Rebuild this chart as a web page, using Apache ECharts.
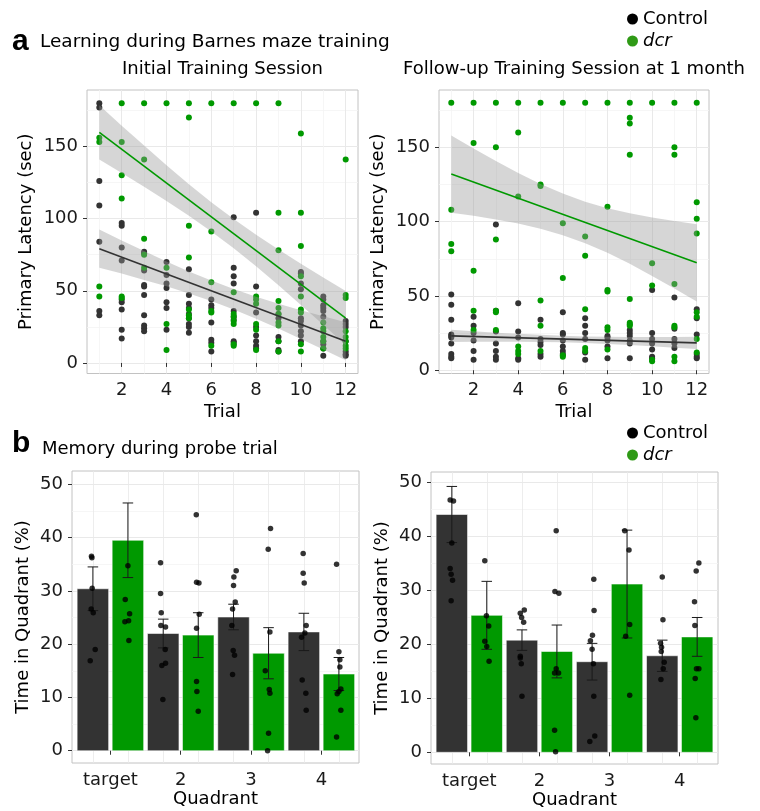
<!DOCTYPE html>
<html><head><meta charset="utf-8">
<script src="https://cdn.jsdelivr.net/npm/echarts@6/dist/echarts.min.js"></script>
<style>html,body{margin:0;padding:0;background:#fff}#c{width:760px;height:811px}</style>
</head><body><div id="c"></div>
<script>
// ---------------- DATA ----------------
const trials = [1,2,3,4,5,6,7,8,9,10,11,12];
const trialTicks = [2,4,6,8,10,12];
const trialMinor = [1,3,5,7,9,11];
const latencyTicks = [0,50,100,150];
const latencyMinor = [25,75,125,175];

// Initial training session: primary latency (sec) per trial
const initialControl = [
  [180,177,126,109,84,36,33],
  [97,95,80,71,44,42,37,23,17],
  [77,76,64,54,53,47,33,26,24,22],
  [70,61,55,52,42,38,23],
  [65,47,41,38,34,31,27,25,21],
  [44,40,38,28,16,14,8],
  [101,66,60,55,36,32,30,15,14],
  [104,53,35,25,19,15,12,10],
  [34,31,18,15,9,8],
  [63,62,55,51,31,29,26,22,19,15],
  [46,44,40,38,36,32,15,13,10,5],
  [29,27,25,15,8,6,5]
];
const initialDcr = [
  [156,153,53,46],
  [180,153,130,114,46,45],
  [180,141,86,75,66],
  [180,66,27,9],
  [180,170,95,73,37,33,31],
  [180,91,56,36,35,12],
  [180,49,34,32,29,27,13,12],
  [180,46,44,41,27,23,9],
  [180,104,78,43,38,34,28,26,15,8],
  [159,104,81,60,46,37,35,13,8],
  [28,24,22,18,15,10],
  [141,47,45,22,18,15,12,10]
];
// fitted lines (value at trial 1 and trial 12) and confidence bands per trial
const initialControlFit = [79.2, 15.0];
const initialDcrFit = [159.7, 31.1];
const initialControlUpper = [92.4,84.9,77.5,70.3,63.4,57.1,51.3,45.9,41.1,36.6,32.3,28.2];
const initialControlLower = [66.0,61.9,57.5,53.1,48.2,42.9,37.1,30.7,23.9,16.6,9.3,1.8];
const initialDcrUpper = [178.5,164.4,150.6,137.0,123.8,111.3,99.7,88.8,78.6,68.8,59.2,49.9];
const initialDcrLower = [140.9,131.6,122.0,112.2,102.0,91.1,79.5,67.0,53.8,40.2,26.4,12.3];

// Follow-up training session at 1 month
const followControl = [
  [51,44,34,24,23,22,18,11,9,8],
  [36,30,25,20,13,7],
  [98,40,26,18,13,9,7],
  [45,26,22,8,7],
  [34,21,19,17,11,9],
  [39,25,24,20,16,13,11],
  [35,30,25,21,12,7],
  [23,22,20,16,8],
  [27,25,23,20,18,8],
  [54,25,21,18,14,9,8],
  [49,28,21,18,15],
  [41,35,24,11,9,8]
];
const followDcr = [
  [180,108,85,80],
  [180,153,67,40,27],
  [180,150,88,40,39,27],
  [180,160,117,16,13,11],
  [180,125,124,47,30,13],
  [180,99,62,10,9],
  [180,90,77,41,15,13],
  [180,110,54,53,29,27,14],
  [180,170,166,145,48,32,31,30],
  [180,72,57,7,6],
  [180,150,145,58,30,29,9,6],
  [180,113,102,92,39,36,21,12]
];
const followControlFit = [23.1, 18.4];
const followDcrFit = [132.0, 72.3];
const followControlUpper = [27.2,26.3,25.3,24.5,23.8,23.2,22.7,22.5,22.4,22.4,22.4,22.5];
const followControlLower = [19.0,19.1,19.1,19.1,19.0,18.8,18.3,17.7,17.0,16.2,15.2,14.3];
const followDcrUpper = [158.0,149.3,140.8,132.7,125.3,118.9,113.4,109.0,105.6,102.8,100.4,98.3];
const followDcrLower = [106.0,103.9,101.4,98.7,95.3,90.9,85.4,79.0,71.6,63.4,55.0,46.3];

// Probe trials: time in quadrant (%)
const quadrants = ['target','2','3','4'];
const pctTicks = [0,10,20,30,40,50];
const pctMinor = [5,15,25,35,45];

const probe1ControlMean = [30.4,22.0,25.1,22.3];
const probe1ControlSE   = [4.1,2.7,2.4,3.5];
const probe1DcrMean     = [39.5,21.7,18.3,14.4];
const probe1DcrSE       = [7.0,4.2,4.8,3.1];
const probe1ControlPts = [
  [36.5,36.2,30.5,26.6,25.9,19.0,16.9],
  [35.3,29.5,25.9,23.5,23.2,19.0,16.4,16.0,9.6],
  [33.8,32.6,31.0,27.9,26.6,23.5,18.8,17.9,14.3],
  [37.0,33.3,31.5,23.5,22.1,21.3,13.3,10.8,7.6]
];
const probe1ControlJitter = [
  [-0.02,-0.014,-0.01,-0.024,0.005,0.033,-0.038],
  [-0.038,-0.038,-0.028,-0.033,0.033,0.028,0.033,-0.019,-0.005],
  [0.038,0.005,0,0.024,-0.014,-0.024,-0.005,0.014,-0.014],
  [-0.01,-0.01,0.005,0.033,0.014,-0.033,-0.024,0.028,0.033]
];
const probe1DcrPts = [
  [34.7,28.4,25.7,24.4,24.2,20.7],
  [44.3,31.6,31.5,25.6,23.0,13.0,11.1,7.4],
  [41.7,37.8,22.3,15.0,11.5,10.8,3.3,0],
  [35.0,18.6,17.1,15.7,11.6,11.1,10.7,7.6,2.6]
];
const probe1DcrJitter = [
  [0,-0.038,0.024,0.01,-0.043,0.014],
  [-0.028,-0.024,0.01,0.014,-0.024,-0.024,-0.019,0],
  [0.028,-0.005,0.019,-0.047,0.01,0.019,0,-0.014],
  [-0.033,0,0.014,0.014,0.028,0,-0.024,0.028,-0.033]
];

const probe2ControlMean = [44.1,20.8,16.8,17.9];
const probe2ControlSE   = [5.2,1.9,3.4,2.9];
const probe2DcrMean     = [25.4,18.7,31.2,21.4];
const probe2DcrSE       = [6.3,4.9,10.0,3.6];
const probe2ControlPts = [
  [46.8,46.6,38.8,34.1,33.0,31.9,28.1],
  [26.4,25.8,25.0,24.1,17.8,17.5,16.4,10.4],
  [32.1,26.3,21.7,20.7,19.1,16.4,10.4,3.0,2.0],
  [32.5,24.6,20.2,19.5,18.7,16.7,15.5,13.5]
];
const probe2ControlJitter = [
  [-0.024,0.024,0,-0.024,-0.01,0.01,-0.01],
  [0.033,-0.024,-0.005,0.024,-0.024,-0.024,-0.01,0],
  [0.024,0.028,0.005,-0.024,0,0.019,0.024,0.038,-0.033],
  [0,0.01,-0.024,-0.01,-0.014,0.028,0.014,-0.019]
];
const probe2DcrPts = [
  [35.5,25.3,23.4,20.6,19.6,16.9],
  [41.1,29.8,29.5,15.5,14.7,14.7,4.1,0.1],
  [41.1,37.5,23.7,21.5,10.6],
  [35.1,33.6,27.9,23.5,15.5,15.5,13.7,6.4]
];
const probe2DcrJitter = [
  [-0.028,-0.005,0.028,-0.028,0,0.033],
  [-0.01,-0.028,0.028,-0.01,-0.033,0.024,-0.033,-0.019],
  [-0.033,0.028,0.038,-0.019,0.038],
  [0.024,-0.014,-0.038,-0.033,-0.01,0.024,-0.028,-0.019]
];

// ---------------- STYLE ----------------
const FONT = '"DejaVu Sans", sans-serif';
const C_CTRL = '#333333';
const C_DCR = '#009900';
const GRID_MAJOR = '#e9e9e9';
const GRID_MINOR = '#f4f4f4';
const BAR_OFF = 0.249, BAR_HALF = 0.224, CAP_HALF = 0.075;
const qPos = quadrants.map((q,i)=>i+1);
const barCenters = [];
qPos.forEach(p=>{barCenters.push(p-BAR_OFF); barCenters.push(p+BAR_OFF);});

const labelStyle = {fontSize:18, fontFamily:FONT, color:'#1a1a1a'};
const nameStyle = {fontSize:18, fontFamily:FONT, color:'#000'};

function majorAxis(dim, g, min, max, ticks, minor, opts){
  const a = {
    type:'value', gridIndex:g, min:min, max:max,
    axisLine:{show:false},
    axisTick:{show:true, inside:false, length:4, lineStyle:{color:'#333', width:1}, customValues:ticks},
    axisLabel:Object.assign({customValues:ticks, margin:dim==='x'?8:9}, labelStyle),
    splitLine:{show:true, lineStyle:{color:GRID_MAJOR, width:1}},
    nameLocation:'middle', nameTextStyle:nameStyle
  };
  return Object.assign(a, opts||{});
}
function minorAxis(g, min, max, vals){
  return {
    type:'value', gridIndex:g, min:min, max:max,
    axisLine:{show:false}, axisLabel:{show:false},
    axisTick:{show:false, customValues:vals},
    splitLine:{show:true, lineStyle:{color:GRID_MINOR, width:0.8}}
  };
}

function scatterFrom(arr){
  const out=[]; arr.forEach((vals,i)=>vals.forEach(v=>out.push([trials[i], v]))); return out;
}
function jitterFrom(pts, jit, offset){
  const out=[]; pts.forEach((vals,i)=>vals.forEach((v,j)=>out.push([qPos[i]+offset+jit[i][j], v]))); return out;
}
function bandSeries(g, upper, lower){
  return {
    type:'custom', xAxisIndex:2*g, yAxisIndex:2*g, z:3, silent:true,
    data:[[trials[0], lower[0]]],
    renderItem:function(params, api){
      const pts=[];
      for(let i=0;i<trials.length;i++) pts.push(api.coord([trials[i], upper[i]]));
      for(let i=trials.length-1;i>=0;i--) pts.push(api.coord([trials[i], lower[i]]));
      return {type:'polygon', shape:{points:pts}, style:{fill:'rgba(153,153,153,0.4)'}};
    }
  };
}
function fitSeries(g, fit, color){
  return {type:'line', xAxisIndex:2*g, yAxisIndex:2*g, z:4, silent:true, symbol:'none',
    data:[[trials[0], fit[0]],[trials[trials.length-1], fit[1]]],
    lineStyle:{color:color, width:1.6}};
}
function scatterSeries(g, name, data, color){
  return {type:'scatter', name:name, xAxisIndex:2*g, yAxisIndex:2*g, z:2, symbolSize:6,
    data:data, itemStyle:{color:color, opacity:1}};
}
function barSeries(g, name, means, offset, color){
  return {type:'custom', name:name, xAxisIndex:2*g, yAxisIndex:2*g, z:2,
    itemStyle:{color:color},
    encode:{x:0, y:1},
    data:means.map((m,i)=>[qPos[i]+offset, m]),
    renderItem:function(params, api){
      const x=api.value(0), y=api.value(1);
      const p0=api.coord([x-BAR_HALF, y]), p1=api.coord([x+BAR_HALF, 0]);
      return {type:'rect', shape:{x:p0[0], y:p0[1], width:p1[0]-p0[0], height:p1[1]-p0[1]},
        style:{fill:color, stroke:'rgba(255,255,255,0.55)', lineWidth:1}};
    }};
}
function errSeries(g, means, se, offset){
  return {type:'custom', xAxisIndex:2*g, yAxisIndex:2*g, z:3, silent:true,
    encode:{x:0, y:[1,2]},
    data:means.map((m,i)=>[qPos[i]+offset, m-se[i], m+se[i]]),
    renderItem:function(params, api){
      const x=api.value(0), lo=api.value(1), hi=api.value(2);
      const a=api.coord([x, hi]), b=api.coord([x, lo]);
      const l=api.coord([x-CAP_HALF, hi]), r=api.coord([x+CAP_HALF, hi]);
      const l2=api.coord([x-CAP_HALF, lo]), r2=api.coord([x+CAP_HALF, lo]);
      const st={stroke:'#1a1a1a', lineWidth:1};
      return {type:'group', children:[
        {type:'line', shape:{x1:a[0],y1:a[1],x2:b[0],y2:b[1]}, style:st},
        {type:'line', shape:{x1:l[0],y1:l[1],x2:r[0],y2:r[1]}, style:st},
        {type:'line', shape:{x1:l2[0],y1:l2[1],x2:r2[0],y2:r2[1]}, style:st}
      ]};
    }};
}
function ptSeries(g, name, data){
  return {type:'scatter', name:name, xAxisIndex:2*g, yAxisIndex:2*g, z:4, symbolSize:5.5,
    data:data, itemStyle:{color:'#000'}, silent:true};
}

// ---------------- AXES ----------------
const TX = [0.45, 12.55];
const TL_Y = [-7.3, 189.1];
const TR_Y = [-2.2, 188.6];
const BX_L = [0.454, 4.535];
const BX_R = [0.454, 4.546];
const BL_Y = [-2.3, 52.5];
const BR_Y = [-2.17, 51.98];
const qFmt = v => quadrants[Math.round(v)-1];

const xAxis = [
  majorAxis('x',0,TX[0],TX[1],trialTicks,null,{name:'Trial', nameGap:30}),
  minorAxis(0,TX[0],TX[1],trialMinor),
  majorAxis('x',1,TX[0],TX[1],trialTicks,null,{name:'Trial', nameGap:30}),
  minorAxis(1,TX[0],TX[1],trialMinor),
  (function(){const a=majorAxis('x',2,BX_L[0],BX_L[1],qPos,null,{name:'Quadrant', nameGap:27});
    a.axisLabel.formatter=qFmt; a.splitLine={show:false}; return a;})(),
  (function(){const a=minorAxis(2,BX_L[0],BX_L[1],barCenters); a.splitLine.lineStyle.color=GRID_MAJOR; return a;})(),
  (function(){const a=majorAxis('x',3,BX_R[0],BX_R[1],qPos,null,{name:'Quadrant', nameGap:27});
    a.axisLabel.formatter=qFmt; a.splitLine={show:false}; return a;})(),
  (function(){const a=minorAxis(3,BX_R[0],BX_R[1],barCenters); a.splitLine.lineStyle.color=GRID_MAJOR; return a;})()
];
const yAxis = [
  majorAxis('y',0,TL_Y[0],TL_Y[1],latencyTicks,null,{name:'Primary Latency (sec)', nameGap:52}),
  minorAxis(0,TL_Y[0],TL_Y[1],latencyMinor),
  majorAxis('y',1,TR_Y[0],TR_Y[1],latencyTicks,null,{name:'Primary Latency (sec)', nameGap:52}),
  minorAxis(1,TR_Y[0],TR_Y[1],latencyMinor),
  majorAxis('y',2,BL_Y[0],BL_Y[1],pctTicks,null,{name:'Time in Quadrant (%)', nameGap:40}),
  minorAxis(2,BL_Y[0],BL_Y[1],pctMinor),
  majorAxis('y',3,BR_Y[0],BR_Y[1],pctTicks,null,{name:'Time in Quadrant (%)', nameGap:40}),
  minorAxis(3,BR_Y[0],BR_Y[1],pctMinor)
];

const gridStyle = {show:true, borderColor:'#c2c2c2', borderWidth:1, backgroundColor:'#fff'};
const grid = [
  Object.assign({left:87, top:90, width:271, height:283.5}, gridStyle),
  Object.assign({left:439, top:90, width:270, height:283.5}, gridStyle),
  Object.assign({left:72, top:471, width:287, height:292}, gridStyle),
  Object.assign({left:431, top:472, width:287, height:292}, gridStyle)
];

const series = [
  scatterSeries(0,'Control',scatterFrom(initialControl),C_CTRL),
  scatterSeries(0,'dcr',scatterFrom(initialDcr),C_DCR),
  bandSeries(0,initialControlUpper,initialControlLower),
  fitSeries(0,initialControlFit,C_CTRL),
  bandSeries(0,initialDcrUpper,initialDcrLower),
  fitSeries(0,initialDcrFit,C_DCR),

  scatterSeries(1,'Control',scatterFrom(followControl),C_CTRL),
  scatterSeries(1,'dcr',scatterFrom(followDcr),C_DCR),
  bandSeries(1,followControlUpper,followControlLower),
  fitSeries(1,followControlFit,C_CTRL),
  bandSeries(1,followDcrUpper,followDcrLower),
  fitSeries(1,followDcrFit,C_DCR),

  barSeries(2,'Control',probe1ControlMean,-BAR_OFF,C_CTRL),
  barSeries(2,'dcr',probe1DcrMean,BAR_OFF,C_DCR),
  errSeries(2,probe1ControlMean,probe1ControlSE,-BAR_OFF),
  errSeries(2,probe1DcrMean,probe1DcrSE,BAR_OFF),
  ptSeries(2,'Control pts',jitterFrom(probe1ControlPts,probe1ControlJitter,-BAR_OFF)),
  ptSeries(2,'dcr pts',jitterFrom(probe1DcrPts,probe1DcrJitter,BAR_OFF)),

  barSeries(3,'Control',probe2ControlMean,-BAR_OFF,C_CTRL),
  barSeries(3,'dcr',probe2DcrMean,BAR_OFF,C_DCR),
  errSeries(3,probe2ControlMean,probe2ControlSE,-BAR_OFF),
  errSeries(3,probe2DcrMean,probe2DcrSE,BAR_OFF),
  ptSeries(3,'Control pts',jitterFrom(probe2ControlPts,probe2ControlJitter,-BAR_OFF)),
  ptSeries(3,'dcr pts',jitterFrom(probe2DcrPts,probe2DcrJitter,BAR_OFF))
];

function legendAt(top){
  return {
    top:top, left:622, orient:'vertical', itemWidth:11, itemHeight:11, itemGap:0,
    icon:'circle', selectedMode:false,
    textStyle:{fontSize:18, fontFamily:FONT, color:'#000', lineHeight:22,
      rich:{i:{fontStyle:'italic', fontSize:18, fontFamily:FONT, color:'#000', lineHeight:22}}},
    formatter:n => n==='dcr' ? '{i|dcr}' : n,
    data:[{name:'Control', itemStyle:{color:'#000'}}, {name:'dcr', itemStyle:{color:'#2f9a16'}}]
  };
}

function txt(x, y, text, font, align){
  return {type:'text', silent:true, style:{x:x, y:y, text:text, font:font, fill:'#000',
    align:align||'left', textAlign:align||'left', verticalAlign:'middle', textVerticalAlign:'middle'}};
}

const graphic = [
  txt(12, 42, 'a', 'bold 30px "Liberation Sans", Arial, sans-serif'),
  txt(40, 42, 'Learning during Barnes maze training', '18.5px "DejaVu Sans", sans-serif'),
  txt(222.5, 69, 'Initial Training Session', '18px "DejaVu Sans", sans-serif', 'center'),
  txt(574, 69, 'Follow-up Training Session at 1 month', '18px "DejaVu Sans", sans-serif', 'center'),
  txt(12, 444, 'b', 'bold 30px "Liberation Sans", Arial, sans-serif'),
  txt(42, 449, 'Memory during probe trial', '18px "DejaVu Sans", sans-serif')
];

const chart = echarts.init(document.getElementById('c'), null, {renderer:'canvas'});
chart.setOption({
  animation:false,
  backgroundColor:'#fff',
  grid:grid, xAxis:xAxis, yAxis:yAxis, series:series,
  legend:[legendAt(3), legendAt(417)],
  graphic:graphic
});
</script></body></html>
